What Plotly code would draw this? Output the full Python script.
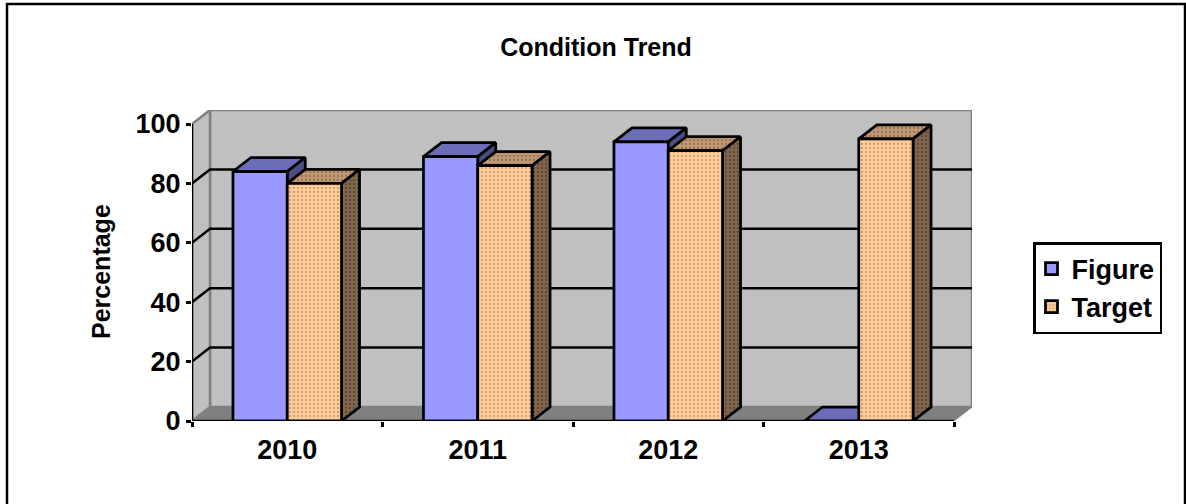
import plotly.graph_objects as go

categories = ["2010", "2011", "2012", "2013"]
figure_values = [84, 89, 94, 0]
target_values = [80, 86, 91, 95]
y_ticks = [0, 20, 40, 60, 80, 100]

W, H = 1186, 504
PX_LEFT, PX_RIGHT = 192, 954      # front plane, horizontal extent
PX_ZERO, PX_HUNDRED = 421, 124    # front plane, vertical extent
PX_DEPTH_X, PX_DEPTH_Y = 18, 14   # oblique offset of the back wall

unit_x = (PX_RIGHT - PX_LEFT) / len(categories)
unit_y = (PX_ZERO - PX_HUNDRED) / 100
DX = PX_DEPTH_X / unit_x
DY = PX_DEPTH_Y / unit_y
BAR_W = 0.285
X_END = len(categories)
STROKE = 2.75


def dots(bg, fg):
    return dict(shape=".", bgcolor=bg, fgcolor=fg, size=4, solidity=0.25, fillmode="overlay")


def face(xs, ys, color, z, pattern=None):
    kw = dict(fillpattern=pattern) if pattern else {}
    return go.Scatter(
        x=xs + xs[:1], y=ys + ys[:1], mode="lines", fill="toself", fillcolor=color,
        line=dict(color="black", width=STROKE), hoverinfo="skip", showlegend=False,
        zorder=z, **kw,
    )


def box_faces(x0, value, top_color, side_color, z, top_pat=None, side_pat=None):
    x1 = x0 + BAR_W
    faces = [face([x0, x1, x1 + DX, x0 + DX], [value, value, value + DY, value + DY], top_color, z, top_pat)]
    if value > 0:
        faces.append(face([x1, x1 + DX, x1 + DX, x1], [0, DY, value + DY, value], side_color, z, side_pat))
    return faces


fig = go.Figure()
centres = [i + 0.5 for i in range(len(categories))]

# Blue series: depth faces, then front; orange series stacked in front of it
for c, v in zip(centres, figure_values):
    for t in box_faces(c - BAR_W, v, "#6C6CB8", "#4D4D80", 1):
        fig.add_trace(t)
fig.add_trace(go.Bar(
    x=centres, y=figure_values, name="Figure", width=BAR_W, offset=-BAR_W, zorder=2,
    marker=dict(color="#9999FF", line=dict(color="black", width=STROKE)), hoverinfo="skip",
))
for c, v in zip(centres, target_values):
    for t in box_faces(c, v, "#BF9973", "#80664D", 3,
                       dots("#BF9973", "#6E5238"), dots("#80664D", "#3A2C1E")):
        fig.add_trace(t)
fig.add_trace(go.Bar(
    x=centres, y=target_values, name="Target", width=BAR_W, offset=0, zorder=4,
    marker=dict(color="#FFCC99", line=dict(color="black", width=STROKE),
                pattern=dots("#FFCC99", "#96704C")),
    hoverinfo="skip",
))

# Walls, floor and gridlines of the oblique box
WALL, EDGE = "#C0C0C0", "#808080"
shapes = [
    dict(type="rect", xref="x", yref="y", x0=DX, x1=X_END + DX, y0=DY, y1=100 + DY,
         fillcolor=WALL, line=dict(color=EDGE, width=2.5), layer="below"),
    dict(type="path", xref="x", yref="y", layer="below", fillcolor=WALL, line=dict(color=EDGE, width=2.5),
         path=f"M0,0 L{DX},{DY} L{DX},{100 + DY} L0,100 Z"),
    dict(type="path", xref="x", yref="y", layer="below", fillcolor=EDGE, line=dict(color=EDGE, width=1),
         path=f"M0,0 L{DX},{DY} L{X_END + DX},{DY} L{X_END},0 Z"),
]
for t in y_ticks[1:-1]:
    shapes.append(dict(type="path", xref="x", yref="y", layer="below",
                       line=dict(color="black", width=2.5),
                       path=f"M0,{t} L{DX},{t + DY} L{X_END + DX},{t + DY}"))
# Axis lines stop at the front plane
shapes += [
    dict(type="line", xref="x", yref="y", x0=0, x1=0, y0=0, y1=100, line=dict(color="black", width=2.5)),
    dict(type="line", xref="x", yref="y", x0=0, x1=X_END, y0=0, y1=0, line=dict(color="black", width=2.5)),
    # Outer chart frame; its lower edge runs off the canvas
    dict(type="rect", xref="paper", yref="paper", x0=7 / W, x1=1185 / W, y0=-0.1, y1=1 - 4 / H,
         line=dict(color="black", width=2.5), fillcolor="rgba(0,0,0,0)"),
]

BOLD = dict(family="Liberation Sans", color="black", weight="bold")
fig.update_layout(
    width=W, height=H, margin=dict(l=0, r=0, t=0, b=0, autoexpand=False),
    paper_bgcolor="white", plot_bgcolor="white", barmode="overlay",
    shapes=shapes,
    title=dict(text="Condition Trend", x=596 / W, xanchor="center", y=1 - 47 / H, yanchor="middle",
               font=dict(size=25, **BOLD)),
    # The y title centres on the front plane rather than the taller axis domain
    annotations=[dict(text="Percentage", xref="paper", yref="paper", x=101 / W, y=1 - 272 / H,
                      xanchor="center", yanchor="middle", textangle=-90, showarrow=False,
                      font=dict(size=25, **BOLD))],
    legend=dict(x=1033 / W, xanchor="left", y=1 - 242 / H, yanchor="top",
                bgcolor="white", bordercolor="black", borderwidth=2.5,
                font=dict(size=27, **BOLD), traceorder="normal", indentation=-4),
    xaxis=dict(
        domain=[PX_LEFT / W, (PX_RIGHT + PX_DEPTH_X) / W], range=[0, X_END + DX],
        tickmode="array", tickvals=centres, ticktext=categories, ticks="",
        ticklabelstandoff=10, tickfont=dict(size=27, **BOLD),
        showgrid=False, zeroline=False, showline=False,
        minor=dict(tickmode="array", tickvals=list(range(X_END + 1)), ticks="outside",
                   ticklen=5, tickwidth=2.5, tickcolor="black", showgrid=False),
    ),
    yaxis=dict(
        domain=[1 - PX_ZERO / H, 1 - (PX_HUNDRED - PX_DEPTH_Y) / H], range=[0, 100 + DY],
        tickmode="array", tickvals=y_ticks, ticks="outside", ticklen=5, tickwidth=2.5,
        tickcolor="black", tickfont=dict(size=27, **BOLD),
        showgrid=False, zeroline=False, showline=False,
    ),
)

fig.write_html("out.html")
